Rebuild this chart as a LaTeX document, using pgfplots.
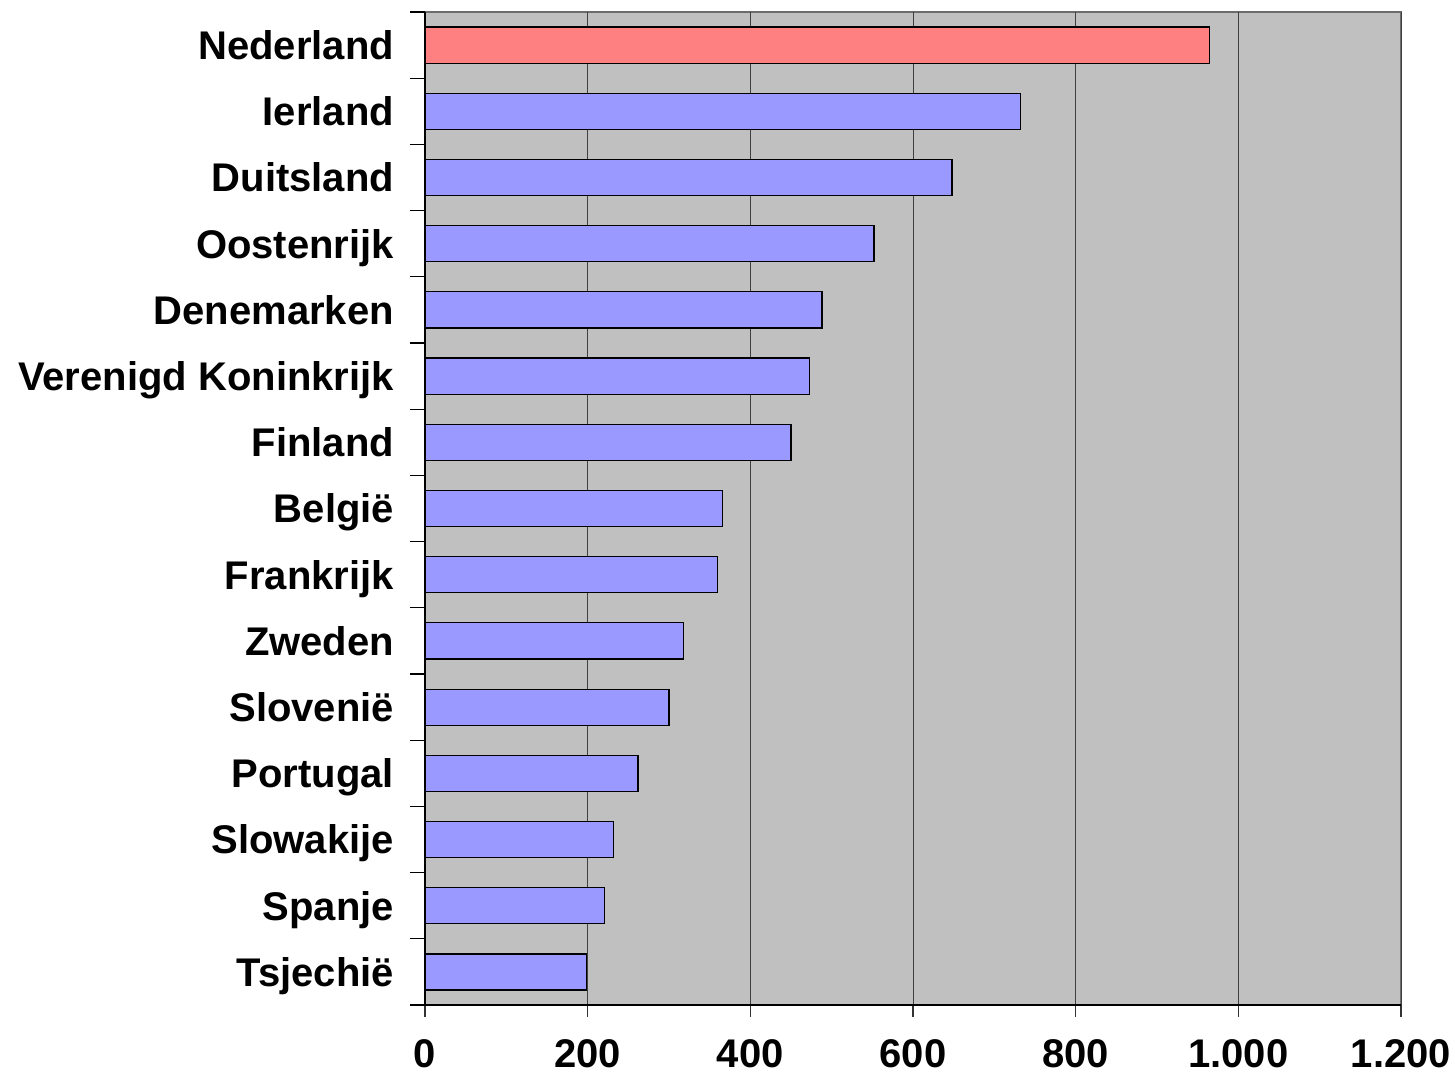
\documentclass[border=0pt]{standalone}
\usepackage{fontspec}
\setmainfont{Liberation Sans}
\usepackage{pgfplots}
\pgfplotsset{compat=1.18}
\definecolor{bggray}{HTML}{C0C0C0}
\definecolor{barblue}{HTML}{9999FF}
\definecolor{barred}{HTML}{FF8080}
\begin{document}
\begin{tikzpicture}
\begin{axis}[
  scale only axis,
  width=488pt, height=496.5pt,
  xmin=0, xmax=1200,
  ymin=-0.5, ymax=14.5,
  xtick={0,200,...,1200},
  ytick={0,...,14},
  yticklabels={Tsjechië,Spanje,Slowakije,Portugal,Slovenië,Zweden,Frankrijk,België,Finland,Verenigd Koninkrijk,Denemarken,Oostenrijk,Duitsland,Ierland,Nederland},
  minor ytick={-0.5,0.5,...,14.5},
  axis lines*=left,
  axis line style={black, line width=0.8pt, -},
  axis background/.style={fill=bggray, draw=gray!85!black, line width=0.6pt},
  xmajorgrids,
  major grid style={black!75, line width=0.5pt},
  tick align=outside,
  major tick length=6pt,
  minor tick length=7.5pt,
  major y tick style={draw=none},
  minor y tick style={black, line width=0.6pt},
  major x tick style={black!80, line width=0.6pt},
  tick label style={font=\fontsize{20}{24}\selectfont\bfseries},
  /pgf/number format/assume math mode=true,
  /pgf/number format/1000 sep={.},
  xticklabel style={anchor=north, inner sep=0pt, yshift=-10.5pt, text height=14.3pt, text depth=0pt},
  yticklabel style={anchor=east, text height=14.3pt, text depth=0pt, xshift=-6pt},
  clip=false,
]
\addplot[xbar, bar width=0.544, bar shift=0pt, fill=barblue, draw=black, line width=0.6pt]
coordinates {(199,0) (221,1) (232,2) (262,3) (300,4) (318,5) (360,6) (366,7) (450,8) (473,9) (488,10) (552,11) (648,12) (732,13)};
\addplot[xbar, bar width=0.544, bar shift=0pt, fill=barred, draw=black, line width=0.6pt]
coordinates {(965,14)};
\end{axis}
\pgfresetboundingbox
\path[use as bounding box] ([xshift=-212.5pt,yshift=-36.5pt]current axis.south west) rectangle ([xshift=27pt,yshift=6pt]current axis.north east);
\end{tikzpicture}
\end{document}
